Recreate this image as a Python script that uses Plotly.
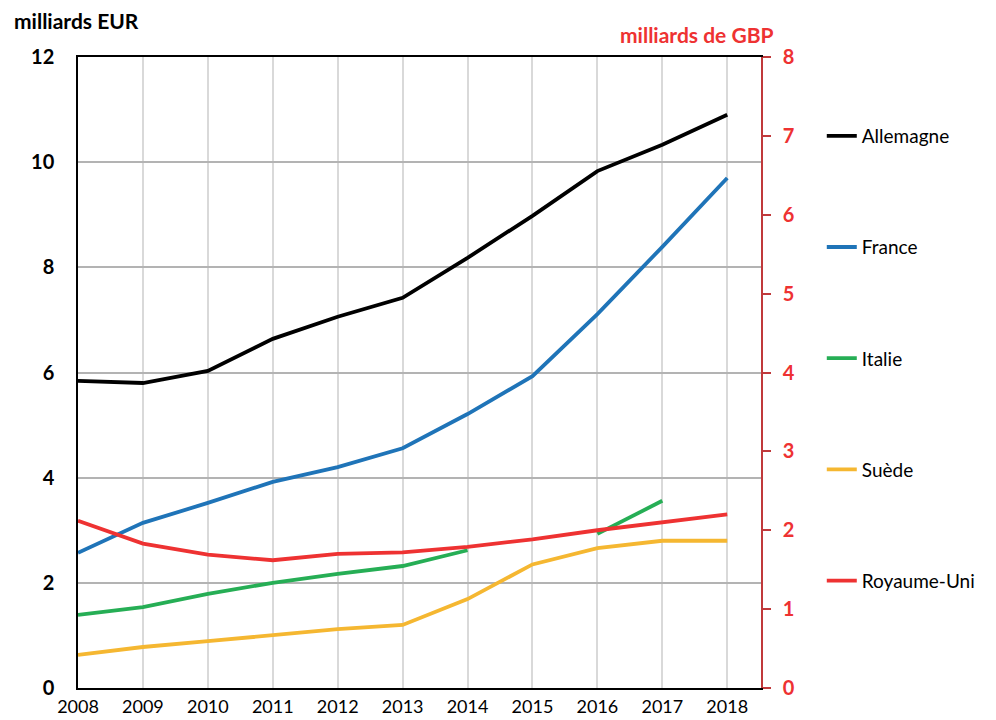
import plotly.graph_objects as go

years = [2008, 2009, 2010, 2011, 2012, 2013, 2014, 2015, 2016, 2017, 2018]
allemagne = [5.84, 5.80, 6.03, 6.64, 7.06, 7.42, 8.18, 8.98, 9.83, 10.33, 10.90]
france = [2.57, 3.14, 3.52, 3.92, 4.20, 4.56, 5.21, 5.93, 7.11, 8.39, 9.70]
italie = [1.39, 1.54, 1.79, 2.00, 2.17, 2.32, 2.62, None, 2.93, 3.56, None]
suede = [0.63, 0.78, 0.89, 1.01, 1.12, 1.20, 1.69, 2.35, 2.66, 2.80, 2.80]
royaume_uni_gbp = [2.12, 1.83, 1.69, 1.62, 1.70, 1.72, 1.79, 1.885, 2.00, 2.10, 2.20]

series = [
    ("Allemagne", allemagne, "#000000", "y"),
    ("France", france, "#1F74B8", "y"),
    ("Italie", italie, "#26AE55", "y"),
    ("Suède", suede, "#F5B731", "y"),
    ("Royaume-Uni", royaume_uni_gbp, "#EE3232", "y2"),
]

FONT = "Lato, 'Open Sans', sans-serif"
fig = go.Figure()
for i, (name, vals, col, ax) in enumerate(series):
    fig.add_trace(go.Scatter(
        x=years, y=vals, name=name, mode="lines", yaxis=ax,
        line=dict(color=col, width=3.8), connectgaps=False,
        legendgroup=f"g{i}",
    ))

fig.update_layout(
    width=996, height=720,
    margin=dict(l=78, r=235, t=57, b=32, autoexpand=False),
    plot_bgcolor="white", paper_bgcolor="white",
    font=dict(family=FONT, size=18, color="#000000"),
    showlegend=True,
    legend=dict(x=1.089, xanchor="left", y=0.905, yanchor="top",
                font=dict(size=19, color="#000000"),
                tracegroupgap=83.5, itemwidth=30, traceorder="grouped",
                bgcolor="rgba(0,0,0,0)"),
    xaxis=dict(range=[2008, 2018.52], tickmode="array", tickvals=years,
               ticktext=[str(y) for y in years], automargin=False,
               showgrid=True, gridcolor="#D9D9D9", gridwidth=1.5,
               showline=True, linecolor="#000000", linewidth=1.5, mirror=True,
               ticks="", zeroline=False, ticklabelstandoff=2,
               tickfont=dict(size=18, family=FONT, color="#000000")),
    yaxis=dict(range=[0, 12], dtick=2, showgrid=True, gridcolor="#B3B3B3",
               gridwidth=1.5, showline=True, linecolor="#000000", linewidth=1.5,
               zeroline=False, ticks="", ticklabelstandoff=18, automargin=False,
               tickfont=dict(size=20, family=FONT, color="#000000", weight="bold")),
    yaxis2=dict(range=[0, 8], dtick=1, overlaying="y", side="right",
                showgrid=False, showline=True, linecolor="#C0393B", linewidth=1.5,
                zeroline=False, ticks="outside", ticklen=8, tickcolor="#C0393B",
                tickwidth=1.5, ticklabelstandoff=8, automargin=False,
                tickfont=dict(size=20, family=FONT, color="#EE3232", weight="bold")),
    annotations=[
        dict(text="<b>milliards EUR</b>", xref="paper", yref="paper",
             x=-0.0966, y=1.0586, xanchor="left", yanchor="middle", showarrow=False,
             font=dict(size=21, family=FONT, color="#000000")),
        dict(text="<b>milliards de GBP</b>", xref="paper", yref="paper",
             x=1.0205, y=1.035, xanchor="right", yanchor="middle", showarrow=False,
             font=dict(size=21, family=FONT, color="#EE3232")),
    ],
)

fig.write_html("out.html", config={"displayModeBar": False},
               post_script="document.body.style.margin='0';document.body.style.overflow='hidden';")
